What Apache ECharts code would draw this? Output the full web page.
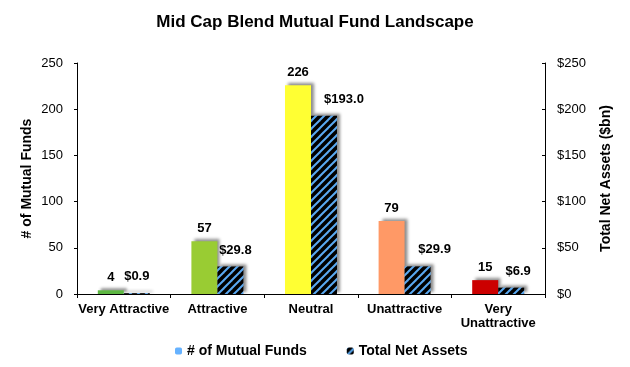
<!DOCTYPE html>
<html><head><meta charset="utf-8">
<script src="https://cdn.jsdelivr.net/npm/echarts@6/dist/echarts.min.js"></script>
<style>html,body{margin:0;padding:0;background:#fff}#c{width:630px;height:367px}</style>
</head><body><div id="c"></div>
<script>
var categories = ['Very Attractive', 'Attractive', 'Neutral', 'Unattractive', 'Very\nUnattractive'];
var fundCounts = [4, 57, 226, 79, 15];
var netAssets = [0.9, 29.8, 193.0, 29.9, 6.9];
var leftTicks = [0, 50, 100, 150, 200, 250];
var rightTicks = [0, 50, 100, 150, 200, 250];

var barColors = ['#5DB742', '#99CC33', '#FFFF33', '#FF9966', '#CC0000'];
var labelShift = [0, 5, 20, 17, 7];

var pc = document.createElement('canvas');
pc.width = 8; pc.height = 8;
var g = pc.getContext('2d');
g.fillStyle = '#000'; g.fillRect(0, 0, 8, 8);
g.strokeStyle = '#5AA9F2'; g.lineWidth = 2;
[[-8, 8, 8, -8], [0, 8, 8, 0], [0, 16, 16, 0]].forEach(function (l) {
  g.beginPath(); g.moveTo(l[0], l[1]); g.lineTo(l[2], l[3]); g.stroke();
});
var hatch = { image: pc, repeat: 'repeat' };

var chart = echarts.init(document.getElementById('c'));
var F = 'Liberation Sans, Arial, sans-serif';
var shadow = { shadowColor: 'rgba(0,0,0,0.45)', shadowBlur: 3, shadowOffsetX: 3, shadowOffsetY: -2 };
chart.setOption({
  animation: false,
  textStyle: { fontFamily: F },
  title: { text: 'Mid Cap Blend Mutual Fund Landscape', left: 'center', top: 9,
    textStyle: { fontFamily: F, fontSize: 17, fontWeight: 'bold', color: '#000' } },
  grid: { left: 77, right: 85, top: 63, bottom: 73 },
  legend: {
    bottom: 4, left: 170, itemWidth: 7, itemHeight: 7, itemGap: 40,
    textStyle: { fontFamily: F, fontSize: 14, fontWeight: 'bold', color: '#000' },
    data: [
      { name: '# of Mutual Funds', itemStyle: { color: '#66B2FF' } },
      { name: 'Total Net Assets', itemStyle: { color: hatch } }
    ]
  },
  xAxis: {
    type: 'category', data: categories,
    axisLine: { lineStyle: { color: '#000' } },
    axisTick: { show: true, length: 4, lineStyle: { color: '#000' } },
    axisLabel: { fontFamily: F, fontSize: 13, fontWeight: 'bold', color: '#000', margin: 8, lineHeight: 14, interval: 0 }
  },
  yAxis: [
    { type: 'value', min: 0, max: 250, interval: 50, name: '# of Mutual Funds',
      nameLocation: 'middle', nameGap: 43, nameMoveOverlap: false,
      nameTextStyle: { fontFamily: F, fontSize: 14, fontWeight: 'bold', color: '#000' },
      axisLine: { show: true, lineStyle: { color: '#000' } },
      axisTick: { show: true, length: 3, lineStyle: { color: '#000' } },
      splitLine: { show: false },
      axisLabel: { fontFamily: F, fontSize: 13, color: '#000', margin: 14,
        formatter: function (v) { return leftTicks.indexOf(v) >= 0 ? String(v) : ''; } } },
    { type: 'value', min: 0, max: 250, interval: 50, name: 'Total Net Assets ($bn)',
      nameLocation: 'middle', nameGap: 54, nameRotate: 90, nameMoveOverlap: false,
      nameTextStyle: { fontFamily: F, fontSize: 14, fontWeight: 'bold', color: '#000' },
      axisLine: { show: true, lineStyle: { color: '#000' } },
      axisTick: { show: true, length: 3, inside: true, lineStyle: { color: '#000' } },
      splitLine: { show: false },
      axisLabel: { fontFamily: F, fontSize: 13, color: '#000', margin: 12,
        formatter: function (v) { return rightTicks.indexOf(v) >= 0 ? '$' + v : ''; } } }
  ],
  series: [
    { name: '# of Mutual Funds', type: 'bar', yAxisIndex: 0, barWidth: 26, barGap: '0%',
      itemStyle: Object.assign({ color: '#66B2FF' }, shadow),
      data: fundCounts.map(function (v, i) { return { value: v, itemStyle: { color: barColors[i] } }; }),
      label: { show: true, position: 'top', distance: 6, fontFamily: F, fontSize: 13, fontWeight: 'bold', color: '#000' } },
    { name: 'Total Net Assets', type: 'bar', yAxisIndex: 1, barWidth: 26,
      itemStyle: Object.assign({ color: hatch }, shadow),
      data: netAssets.map(function (v, i) { return { value: v, label: { offset: [labelShift[i], -2] } }; }),
      label: { show: true, position: 'top', distance: 8, fontFamily: F, fontSize: 13, fontWeight: 'bold', color: '#000',
        formatter: function (p) { return '$' + p.value.toFixed(1); } } }
  ]
});
</script></body></html>
